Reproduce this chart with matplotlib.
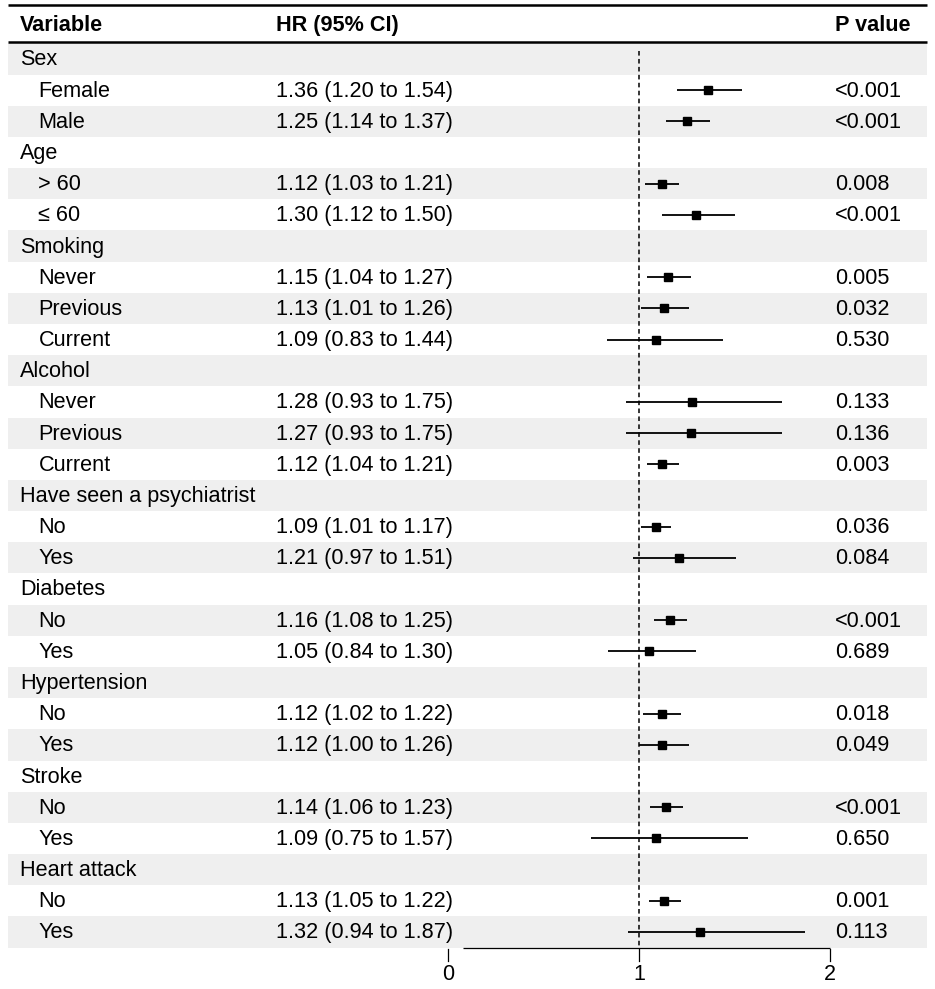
import matplotlib
matplotlib.use('Agg')
import numpy as np
import matplotlib.pyplot as plt
from matplotlib.transforms import blended_transform_factory

# ---------------- data ----------------
labels = ["Sex", "Female", "Male",
          "Age", "> 60", "\u2264 60",
          "Smoking", "Never", "Previous", "Current",
          "Alcohol", "Never", "Previous", "Current",
          "Have seen a psychiatrist", "No", "Yes",
          "Diabetes", "No", "Yes",
          "Hypertension", "No", "Yes",
          "Stroke", "No", "Yes",
          "Heart attack", "No", "Yes"]
is_group = [True, False, False,
            True, False, False,
            True, False, False, False,
            True, False, False, False,
            True, False, False,
            True, False, False,
            True, False, False,
            True, False, False,
            True, False, False]
hr = [np.nan, 1.36, 1.25,
      np.nan, 1.12, 1.30,
      np.nan, 1.15, 1.13, 1.09,
      np.nan, 1.28, 1.27, 1.12,
      np.nan, 1.09, 1.21,
      np.nan, 1.16, 1.05,
      np.nan, 1.12, 1.12,
      np.nan, 1.14, 1.09,
      np.nan, 1.13, 1.32]
ci_low = [np.nan, 1.20, 1.14,
          np.nan, 1.03, 1.12,
          np.nan, 1.04, 1.01, 0.83,
          np.nan, 0.93, 0.93, 1.04,
          np.nan, 1.01, 0.97,
          np.nan, 1.08, 0.84,
          np.nan, 1.02, 1.00,
          np.nan, 1.06, 0.75,
          np.nan, 1.05, 0.94]
ci_high = [np.nan, 1.54, 1.37,
           np.nan, 1.21, 1.50,
           np.nan, 1.27, 1.26, 1.44,
           np.nan, 1.75, 1.75, 1.21,
           np.nan, 1.17, 1.51,
           np.nan, 1.25, 1.30,
           np.nan, 1.22, 1.26,
           np.nan, 1.23, 1.57,
           np.nan, 1.22, 1.87]
p_values = ["", "<0.001", "<0.001",
            "", "0.008", "<0.001",
            "", "0.005", "0.032", "0.530",
            "", "0.133", "0.136", "0.003",
            "", "0.036", "0.084",
            "", "<0.001", "0.689",
            "", "0.018", "0.049",
            "", "<0.001", "0.650",
            "", "0.001", "0.113"]
x_ticks = [0, 1, 2]
headers = ["Variable", "HR (95% CI)", "P value"]

# ---------------- layout ----------------
W, H = 935, 989
fam = ['Liberation Sans', 'DejaVu Sans']
plt.rcParams['font.family'] = fam

fig = plt.figure(figsize=(W / 100, H / 100), dpi=100)
ax = fig.add_axes([0, 0, 1, 1])
x0_px, unit_px = 448.0, 191.0
row0_px, row_px = 59.0, 31.18
ax.set_xlim(-x0_px / unit_px, (W - x0_px) / unit_px)
ax.set_ylim((H - row0_px) / row_px, -row0_px / row_px)
ax.axis('off')

tr = blended_transform_factory(ax.transAxes, ax.transData)
n = len(labels)
left_f, right_f = 7.5 / W, 927 / W
fs = 15.6

# alternating row backgrounds
for i in range(n):
    if i % 2 == 0:
        ax.fill_between([left_f, right_f], i - 0.5, i + 0.5, color='#efefef',
                        lw=0, transform=tr, zorder=0)

# header lines
ax.plot([left_f, right_f], [-1.73, -1.73], color='black', lw=1.8, transform=tr,
        solid_capstyle='butt')
ax.plot([left_f, right_f], [-0.545, -0.545], color='black', lw=1.8, transform=tr,
        solid_capstyle='butt')

# header text
col_var, col_hr, col_p = 20 / W, 275.5 / W, 835 / W
hy = -1.06
ax.text(col_var, hy, headers[0], transform=tr, fontsize=fs, fontweight='bold', va='center')
ax.text(col_hr, hy, headers[1], transform=tr, fontsize=fs, fontweight='bold', va='center')
ax.text(col_p, hy, headers[2], transform=tr, fontsize=fs, fontweight='bold', va='center')

# rows
ty = 0.03
for i in range(n):
    xl = col_var if is_group[i] else 38.5 / W
    ax.text(xl, i + ty, labels[i], transform=tr, fontsize=fs, va='center')
    if not is_group[i]:
        ax.text(col_hr, i + ty, f"{hr[i]:.2f} ({ci_low[i]:.2f} to {ci_high[i]:.2f})",
                transform=tr, fontsize=fs, va='center')
        ax.text(col_p, i + ty, p_values[i], transform=tr, fontsize=fs, va='center')
        ax.plot([ci_low[i], ci_high[i]], [i, i], color='black', lw=1.3,
                solid_capstyle='butt', zorder=3)
        ax.plot([hr[i]], [i], marker='s', ms=5.3, color='black', zorder=4)

# reference line
ax.plot([1, 1], [-0.25, n - 0.5], color='black', lw=1.1, ls=(0, (3, 2.2)), zorder=2)

# x axis
ybase = n - 0.5
ax.plot([0.08, max(x_ticks)], [ybase, ybase], color='black', lw=0.9,
        solid_capstyle='butt')
for t in x_ticks:
    ax.plot([t, t], [ybase + 0.03, ybase + 0.42], color='black', lw=0.9)
    ax.text(t, ybase + 0.86, str(t), fontsize=15.5, ha='center', va='center')

fig.savefig('out.png', dpi=100)
